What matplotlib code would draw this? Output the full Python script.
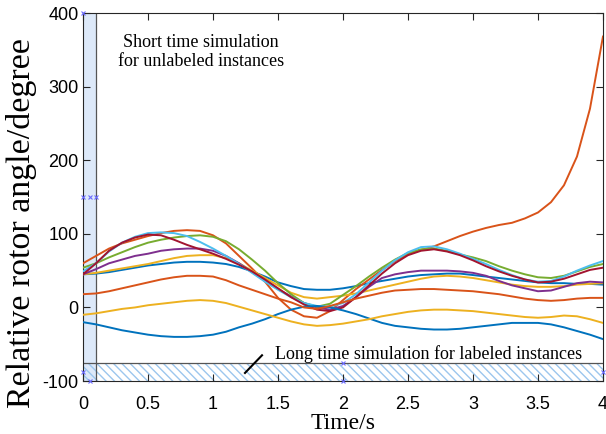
import numpy as np
import matplotlib.pyplot as plt
from matplotlib.patches import Rectangle

plt.rcParams['axes.unicode_minus'] = False

t = np.round(np.arange(0, 4.01, 0.1), 1)

blue_hi = [45, 46, 48, 51, 54, 57, 59, 61, 62, 62, 61, 59, 55, 49, 42, 34, 29, 25, 24, 24,
           26, 29, 33, 36, 39, 42, 44, 45, 46, 46, 44, 42, 40, 38, 36, 34, 33, 33, 32, 32, 31]
orange_up = [60, 70, 80, 87, 92, 97, 101, 104, 105, 104, 98, 87, 70, 53, 35, 13, -3, -12, -14, -5,
             10, 25, 38, 51, 63, 72, 78, 83, 90, 97, 103, 108, 112, 115, 121, 129, 143, 166, 205, 270, 368]
yellow_hi = [45, 47, 50, 53, 56, 59, 63, 67, 70, 71, 71, 67, 60, 50, 40, 30, 20, 14, 12, 14,
             16, 19, 23, 27, 31, 35, 39, 42, 43, 42, 40, 37, 34, 31, 29, 28, 28, 29, 31, 32, 33]
purple = [45, 52, 60, 65, 70, 73, 77, 79, 80, 80, 77, 70, 60, 48, 36, 25, 15, 6, 0, -3,
          2, 14, 28, 40, 45, 48, 50, 50, 50, 49, 47, 43, 36, 30, 26, 22, 23, 28, 33, 35, 34]
green = [54, 60, 68, 75, 82, 88, 92, 95, 97, 98, 96, 90, 79, 65, 50, 33, 18, 6, 1, 5,
         17, 29, 42, 54, 65, 74, 79, 80, 77, 72, 68, 63, 56, 50, 45, 41, 40, 43, 49, 55, 59]
light_blue = [49, 60, 76, 88, 96, 101, 102, 101, 97, 89, 80, 70, 59, 47, 35, 24, 14, 6, 2, 1,
              6, 18, 34, 50, 64, 75, 82, 83, 79, 73, 66, 59, 51, 44, 38, 35, 36, 42, 50, 57, 63]
dark_red = [45, 60, 77, 88, 95, 99, 98, 92, 85, 79, 73, 66, 58, 49, 38, 26, 14, 4, -3, -5,
            0, 14, 30, 46, 60, 71, 77, 79, 76, 71, 64, 56, 49, 43, 38, 34, 35, 39, 45, 51, 54]
blue_lo = [-20, -23, -27, -31, -34, -37, -39, -40, -40, -39, -37, -33, -27, -22, -16, -9, -3, 1, 2, 0,
           -4, -9, -15, -21, -25, -27, -29, -30, -30, -29, -27, -25, -23, -21, -21, -21, -23, -27, -32, -37, -43]
orange_lo = [18, 19, 22, 26, 30, 34, 38, 41, 43, 43, 42, 37, 30, 24, 18, 12, 7, 0, -2, 2,
             7, 12, 16, 20, 23, 24, 25, 25, 24, 23, 22, 20, 18, 15, 12, 10, 9, 10, 12, 13, 13]
yellow_lo = [-10, -8, -5, -2, 0, 3, 5, 7, 9, 10, 9, 6, 1, -4, -9, -14, -19, -23, -25, -24,
             -22, -19, -16, -12, -9, -6, -4, -3, -3, -4, -5, -7, -9, -11, -13, -14, -13, -11, -12, -16, -21]

series = [blue_hi, orange_up, yellow_hi, purple, green, light_blue, dark_red, blue_lo, orange_lo, yellow_lo]
colors = ['#0072BD', '#D95319', '#EDB120', '#7E2F8E', '#77AC30', '#4DBEEE', '#A2142F',
          '#0072BD', '#D95319', '#EDB120']

xticks = [0, 0.5, 1, 1.5, 2, 2.5, 3, 3.5, 4]
xlabels = ['0', '0.5', '1', '1.5', '2', '2.5', '3', '3.5', '4']
yticks = [-100, 0, 100, 200, 300, 400]

fig = plt.figure(figsize=(6.06, 4.34), dpi=100)
ax = fig.add_axes([0.137, 0.122, 0.858, 0.848])

# shaded regions
ax.add_patch(Rectangle((0, -100), 0.1, 500, facecolor='#dde9f9', edgecolor='none', zorder=1))
ax.plot([0.1, 0.1], [-100, 400], color='#555555', lw=0.9, zorder=2)
ax.add_patch(Rectangle((0, -100), 4, 24, facecolor='none', edgecolor='#9cc6ee',
                       hatch='\\\\\\\\', lw=0, zorder=1))
ax.plot([0, 4], [-76, -76], color='#555555', lw=0.9, zorder=2)

for y, c in zip(series, colors):
    ax.plot(t, y, color=c, lw=1.4, zorder=3)

# small selection markers
mx = [0, 0.05, 0.1, 0, 0, 0.05, 2, 2, 4]
my = [150, 150, 150, 400, -88, -100, -100, -76, -88]
ax.plot(mx, my, 'x', color='#6b6bff', ms=2.5, mew=0.8, zorder=4, clip_on=False)

serif = ['Liberation Serif', 'DejaVu Serif']
ax.text(0.91, 347, 'Short time simulation\nfor unlabeled instances', ha='center', va='center',
        fontsize=13, family=serif, linespacing=1.2)
ax.text(2.66, -63, 'Long time simulation for labeled instances', ha='center', va='center',
        fontsize=13, family=serif)
ax.plot([1.246, 1.377], [-89, -65], color='black', lw=1.5, zorder=4)

ax.set_xlim(0, 4)
ax.set_ylim(-100, 400)
ax.set_xticks(xticks)
ax.set_xticklabels(xlabels)
ax.set_yticks(yticks)
ax.tick_params(direction='in', top=True, right=True, length=5, width=0.8,
               labelsize=13, colors='#262626', labelcolor='black')
ax.tick_params(axis='x', pad=11)
ax.tick_params(axis='y', pad=3)
for lab in ax.get_xticklabels() + ax.get_yticklabels():
    lab.set_family(['Liberation Sans', 'DejaVu Sans'])
for s in ax.spines.values():
    s.set_color('#262626')
    s.set_linewidth(0.8)

ax.set_xlabel('Time/s', fontsize=17, family=serif, labelpad=0)
ax.set_ylabel('Relative rotor angle/degree', fontsize=24.5, family=serif, va='center')
ax.yaxis.set_label_coords(-0.119, 0.43)

fig.savefig('out.png', dpi=100)
